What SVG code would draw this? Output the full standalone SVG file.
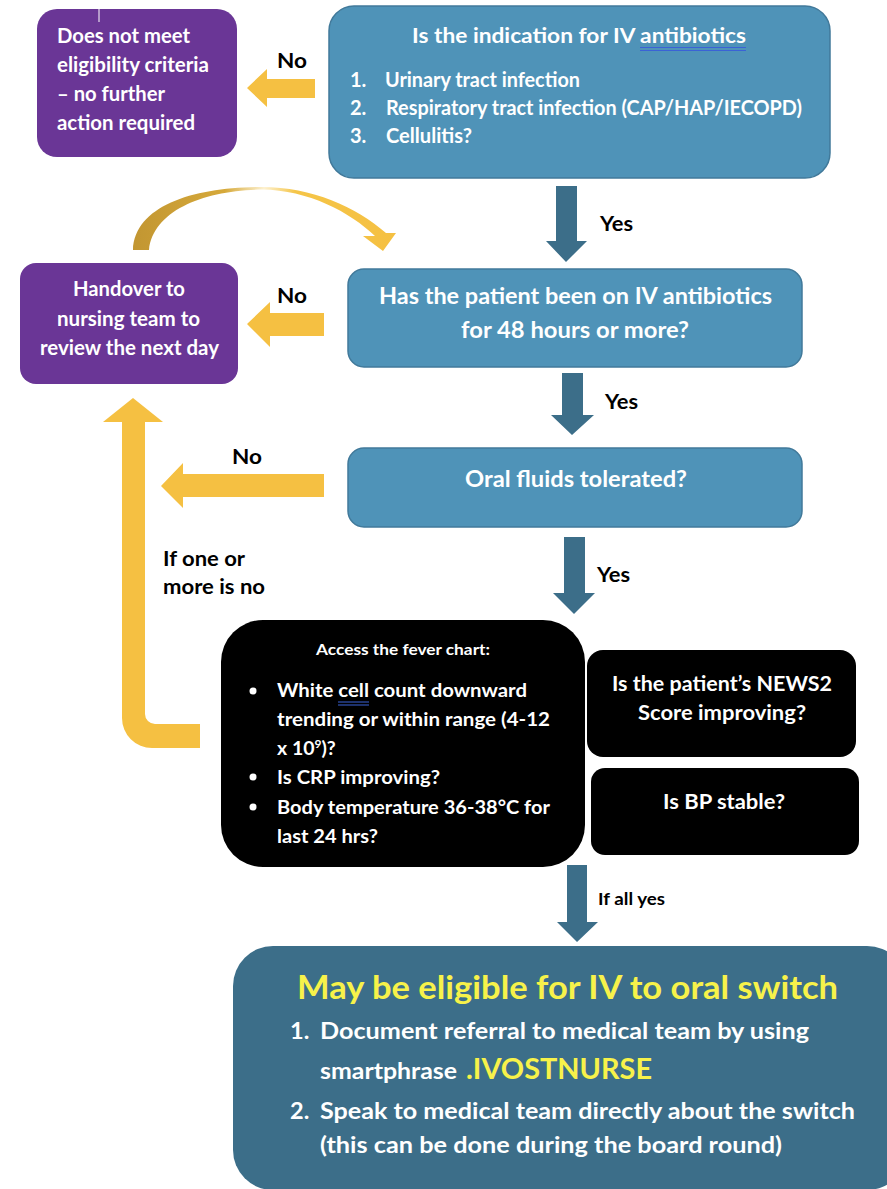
<svg xmlns="http://www.w3.org/2000/svg" width="887" height="1189" viewBox="0 0 887 1189">
<defs>
<style>
text{font-family:Lato,"Liberation Sans",sans-serif;font-weight:700}
.w{fill:#ffffff}
.k{fill:#000000}
.y{fill:#f7f24a}
.purple{fill:#6a3696}
.blue{fill:#4f93b8;stroke:#41799a;stroke-width:1.5}
.black{fill:#000000}
.teal{fill:#3c6e89}
.gold{fill:#f5c042}
.sq{stroke:#3b62d6;stroke-width:1}
</style>
<linearGradient id="curveGrad" x1="133" y1="0" x2="395" y2="0" gradientUnits="userSpaceOnUse">
<stop offset="0" stop-color="#c29632"/>
<stop offset="0.35" stop-color="#d6a93a"/>
<stop offset="0.5" stop-color="#fdf1d0"/>
<stop offset="0.62" stop-color="#f5c548"/>
<stop offset="1" stop-color="#f5c042"/>
</linearGradient>
</defs>
<rect width="887" height="1189" fill="#ffffff"/>

<g id="connectors">
<polygon class="gold" points="315,79 267,79 267,69 247,88 267,107 267,98 315,98"/>
<polygon class="gold" points="324,313 270,313 270,302 247,324 270,347 270,336 324,336"/>
<polygon class="gold" points="324,474 183,474 183,463 161,486 183,508 183,497 324,497"/>
<path class="gold" d="M200,724 L155,724 A10,10 0 0 1 145,714 L145,422 L163,422 L133,398 L103,422 L122,422 L122,718 A30,30 0 0 0 152,748 L200,748 Z"/>
<path fill="url(#curveGrad)" d="M133,250 C135,205 195,187 262,187 C312,187 356,207 386,233 L396,233 L383,251 L363,236 L375,236 C350,212 308,190 262,189.5 C205,190 153,210 149,250 Z"/>
<polygon class="teal" points="556,186 577,186 577,241 587,241 566,262 546,241 556,241"/>
<polygon class="teal" points="562,373 583,373 583,415 594,415 572,435 551,415 562,415"/>
<polygon class="teal" points="564,537 585,537 585,593 595,593 574,614 553,593 564,593"/>
<polygon class="teal" points="567,865 587,865 587,922 598,922 577,942 557,922 567,922"/>
<text class="k" x="277" y="68" font-size="21" textLength="30" lengthAdjust="spacingAndGlyphs">No</text>
<text class="k" x="277" y="303" font-size="21" textLength="30" lengthAdjust="spacingAndGlyphs">No</text>
<text class="k" x="232" y="464" font-size="21" textLength="30" lengthAdjust="spacingAndGlyphs">No</text>
<text class="k" x="600" y="231" font-size="20" textLength="33" lengthAdjust="spacingAndGlyphs">Yes</text>
<text class="k" x="605" y="409" font-size="20" textLength="33" lengthAdjust="spacingAndGlyphs">Yes</text>
<text class="k" x="597" y="582" font-size="20" textLength="33" lengthAdjust="spacingAndGlyphs">Yes</text>
<text class="k" x="598" y="905" font-size="17" textLength="67" lengthAdjust="spacingAndGlyphs">If all yes</text>
<text class="k" x="163" y="566" font-size="20.5" textLength="82" lengthAdjust="spacingAndGlyphs">If one or</text>
<text class="k" x="163" y="594" font-size="20.5" textLength="102" lengthAdjust="spacingAndGlyphs">more is no</text>
</g>

<g id="node-not-eligible">
<rect class="purple" x="37" y="9" width="200" height="148" rx="20"/>
<line x1="99" y1="9" x2="99" y2="22" stroke="#ffffff" stroke-width="1"/>
<text class="w" font-size="20"><tspan x="57" y="43" textLength="133" lengthAdjust="spacingAndGlyphs">Does not meet</tspan><tspan x="57" y="72" textLength="152" lengthAdjust="spacingAndGlyphs">eligibility criteria</tspan><tspan x="57" y="101" textLength="108" lengthAdjust="spacingAndGlyphs">– no further</tspan><tspan x="57" y="130" textLength="138" lengthAdjust="spacingAndGlyphs">action required</tspan></text>
</g>

<g id="node-indication">
<rect class="blue" x="329" y="6" width="501" height="172" rx="25"/>
<text class="w" x="412" y="43" font-size="21.5" textLength="334" lengthAdjust="spacingAndGlyphs">Is the indication for IV antibiotics</text>
<line class="sq" x1="640" y1="47.5" x2="746" y2="47.5"/>
<line class="sq" x1="640" y1="50.5" x2="746" y2="50.5"/>
<text class="w" font-size="20"><tspan x="350" y="87">1.</tspan><tspan x="385" y="87" textLength="195" lengthAdjust="spacingAndGlyphs">Urinary tract infection</tspan><tspan x="350" y="115">2.</tspan><tspan x="386" y="115" textLength="416" lengthAdjust="spacingAndGlyphs">Respiratory tract infection (CAP/HAP/IECOPD)</tspan><tspan x="350" y="143">3.</tspan><tspan x="386" y="143" textLength="86" lengthAdjust="spacingAndGlyphs">Cellulitis?</tspan></text>
</g>

<g id="node-handover">
<rect class="purple" x="20" y="263" width="218" height="121" rx="16"/>
<text class="w" font-size="20"><tspan x="73" y="296" textLength="112" lengthAdjust="spacingAndGlyphs">Handover to</tspan><tspan x="57" y="326" textLength="143" lengthAdjust="spacingAndGlyphs">nursing team to</tspan><tspan x="40" y="355" textLength="179" lengthAdjust="spacingAndGlyphs">review the next day</tspan></text>
</g>

<g id="node-48hours">
<rect class="blue" x="348" y="269" width="454" height="98" rx="16"/>
<text class="w" font-size="22.5"><tspan x="379" y="304" textLength="393" lengthAdjust="spacingAndGlyphs">Has the patient been on IV antibiotics</tspan><tspan x="461" y="338" textLength="228" lengthAdjust="spacingAndGlyphs">for 48 hours or more?</tspan></text>
</g>

<g id="node-oral-fluids">
<rect class="blue" x="348" y="448" width="454" height="79" rx="16"/>
<text class="w" x="465" y="487" font-size="22.5" textLength="222" lengthAdjust="spacingAndGlyphs">Oral fluids tolerated?</text>
</g>

<g id="node-fever-chart">
<rect class="black" x="221" y="620" width="364" height="247" rx="42"/>
<text class="w" x="316" y="655" font-size="15.5" textLength="174" lengthAdjust="spacingAndGlyphs">Access the fever chart:</text>
<circle class="w" cx="253" cy="691" r="3.5"/>
<circle class="w" cx="253" cy="777" r="3.5"/>
<circle class="w" cx="253" cy="807" r="3.5"/>
<text class="w" font-size="19.5"><tspan x="277" y="697" textLength="250" lengthAdjust="spacingAndGlyphs">White cell count downward</tspan></text>
<line class="sq" x1="338" y1="702" x2="369" y2="702"/>
<line class="sq" x1="338" y1="705" x2="369" y2="705"/>
<text class="w" font-size="19.5"><tspan x="277" y="726" textLength="273" lengthAdjust="spacingAndGlyphs">trending or within range (4-12</tspan></text>
<text class="w" font-size="19.5" x="277" y="755">x 10<tspan font-size="12" dy="-7">9</tspan><tspan dy="7">)?</tspan></text>
<text class="w" font-size="19.5"><tspan x="277" y="784" textLength="163" lengthAdjust="spacingAndGlyphs">Is CRP improving?</tspan></text>
<text class="w" font-size="19.5"><tspan x="277" y="814" textLength="273" lengthAdjust="spacingAndGlyphs">Body temperature 36-38°C for</tspan></text>
<text class="w" font-size="19.5"><tspan x="277" y="843" textLength="101" lengthAdjust="spacingAndGlyphs">last 24 hrs?</tspan></text>
</g>

<g id="node-news2">
<rect class="black" x="587" y="650" width="269" height="107" rx="16"/>
<text class="w" font-size="20" text-anchor="middle"><tspan x="722" y="691" textLength="220" lengthAdjust="spacingAndGlyphs">Is the patient’s NEWS2</tspan><tspan x="722" y="720" textLength="168" lengthAdjust="spacingAndGlyphs">Score improving?</tspan></text>
</g>

<g id="node-bp">
<rect class="black" x="591" y="768" width="268" height="87" rx="14"/>
<text class="w" x="724" y="809" font-size="20" text-anchor="middle" textLength="122" lengthAdjust="spacingAndGlyphs">Is BP stable?</text>
</g>

<g id="node-eligible">
<rect class="teal" x="233" y="946" width="674" height="244" rx="40"/>
<text class="y" x="297" y="999" font-size="33" textLength="541" lengthAdjust="spacingAndGlyphs">May be eligible for IV to oral switch</text>
<text class="w" font-size="23.5"><tspan x="290" y="1039">1.</tspan><tspan x="320" y="1039" textLength="489" lengthAdjust="spacingAndGlyphs">Document referral to medical team by using</tspan><tspan x="320" y="1079" textLength="137" lengthAdjust="spacingAndGlyphs">smartphrase</tspan><tspan class="y" x="466" y="1079" font-size="28.5" textLength="186" lengthAdjust="spacingAndGlyphs">.IVOSTNURSE</tspan><tspan x="290" y="1119">2.</tspan><tspan x="320" y="1119" textLength="535" lengthAdjust="spacingAndGlyphs">Speak to medical team directly about the switch</tspan><tspan x="320" y="1153" textLength="462" lengthAdjust="spacingAndGlyphs">(this can be done during the board round)</tspan></text>
</g>
</svg>
